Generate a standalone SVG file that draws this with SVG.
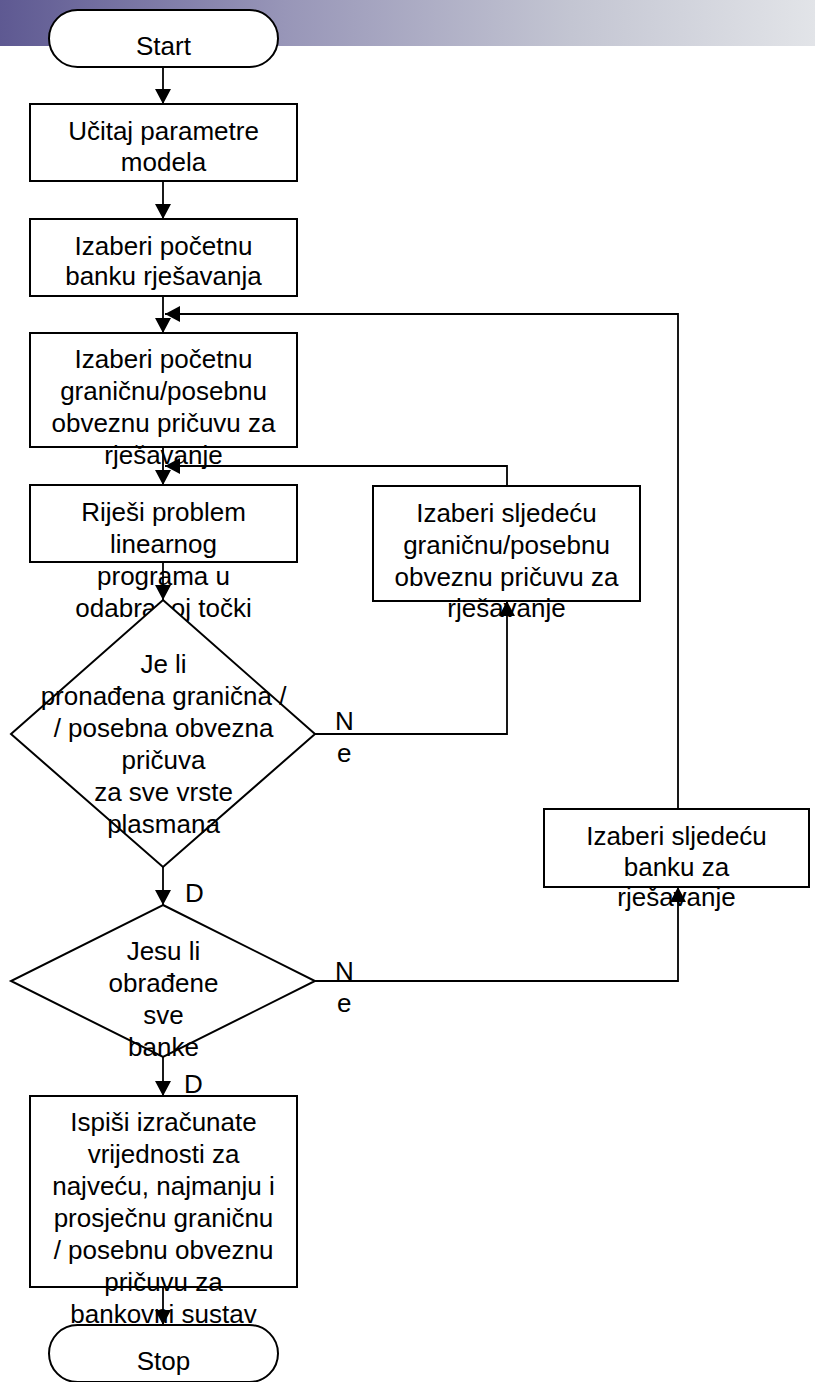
<svg xmlns="http://www.w3.org/2000/svg" width="815" height="1382" viewBox="0 0 815 1382">
<style>
.shape{fill:#fff;stroke:#000;stroke-width:2}
.t{font-family:"Liberation Sans",Arial,sans-serif;font-size:26px;fill:#000;text-anchor:middle}
.lbl{font-family:"Liberation Sans",Arial,sans-serif;font-size:26px;fill:#000}
.conn{fill:none;stroke:#000;stroke-width:1.8}
</style>
<defs>
<linearGradient id="bar" x1="0" y1="0" x2="1" y2="0">
<stop offset="0" stop-color="#5e5992"/>
<stop offset="0.35" stop-color="#9896b8"/>
<stop offset="0.7" stop-color="#c3c5d2"/>
<stop offset="1" stop-color="#e2e4e8"/>
</linearGradient>
<marker id="arr" markerUnits="userSpaceOnUse" markerWidth="16" markerHeight="16" refX="15" refY="8" orient="auto">
<path d="M0,0 L15,8 L0,16 z" fill="#000"/>
</marker>
</defs>
<rect x="0" y="0" width="815" height="46" fill="url(#bar)"/>

<g id="start">
<rect class="shape" x="49" y="10" width="229" height="57" rx="28.5" ry="28.5"/>
<text class="t" x="163.5" y="55">Start</text>
</g>
<g id="ucitaj">
<rect class="shape" x="30" y="104" width="267" height="77"/>
<text class="t" x="163.5" y="140">Učitaj parametre</text>
<text class="t" x="163.5" y="171">modela</text>
</g>
<g id="pocetna-banka">
<rect class="shape" x="30" y="219" width="267" height="77"/>
<text class="t" x="163.5" y="255">Izaberi početnu</text>
<text class="t" x="163.5" y="285">banku rješavanja</text>
</g>
<g id="pocetna-pricuva">
<rect class="shape" x="30" y="333" width="267" height="114"/>
<text class="t" x="163.5" y="368">Izaberi početnu</text>
<text class="t" x="163.5" y="400">graničnu/posebnu</text>
<text class="t" x="163.5" y="432">obveznu pričuvu za</text>
<text class="t" x="163.5" y="464">rješavanje</text>
</g>
<g id="rijesi">
<rect class="shape" x="30" y="485" width="267" height="77"/>
<text class="t" x="163.5" y="521">Riješi problem</text>
<text class="t" x="163.5" y="553">linearnog</text>
<text class="t" x="163.5" y="585">programa u</text>
<text class="t" x="163.5" y="617">odabranoj točki</text>
</g>
<g id="sljedeca-pricuva">
<rect class="shape" x="373" y="486" width="267" height="115"/>
<text class="t" x="506.5" y="522">Izaberi sljedeću</text>
<text class="t" x="506.5" y="554">graničnu/posebnu</text>
<text class="t" x="506.5" y="586">obveznu pričuvu za</text>
<text class="t" x="506.5" y="617">rješavanje</text>
</g>
<g id="odluka-pricuva">
<polygon class="shape" points="163,600 315,734 163,867 11,734"/>
<text class="t" x="163.5" y="673">Je li</text>
<text class="t" x="163.5" y="705">pronađena granična /</text>
<text class="t" x="163.5" y="737">/ posebna obvezna</text>
<text class="t" x="163.5" y="769">pričuva</text>
<text class="t" x="163.5" y="801">za sve vrste</text>
<text class="t" x="163.5" y="833">plasmana</text>
</g>
<g id="sljedeca-banka">
<rect class="shape" x="544" y="809" width="265" height="78"/>
<text class="t" x="676.5" y="845">Izaberi sljedeću</text>
<text class="t" x="676.5" y="876">banku za</text>
<text class="t" x="676.5" y="906">rješavanje</text>
</g>
<g id="odluka-banke">
<polygon class="shape" points="163,905 315,981 163,1057 11,981"/>
<text class="t" x="163.5" y="960">Jesu li</text>
<text class="t" x="163.5" y="992">obrađene</text>
<text class="t" x="163.5" y="1024">sve</text>
<text class="t" x="163.5" y="1056">banke</text>
</g>
<g id="ispisi">
<rect class="shape" x="30" y="1096" width="267" height="191"/>
<text class="t" x="163.5" y="1131">Ispiši izračunate</text>
<text class="t" x="163.5" y="1163">vrijednosti za</text>
<text class="t" x="163.5" y="1195">najveću, najmanju i</text>
<text class="t" x="163.5" y="1227">prosječnu graničnu</text>
<text class="t" x="163.5" y="1259">/ posebnu obveznu</text>
<text class="t" x="163.5" y="1291">pričuvu za</text>
<text class="t" x="163.5" y="1323">bankovni sustav</text>
</g>
<g id="stop">
<rect class="shape" x="49" y="1325" width="229" height="57" rx="28.5" ry="28.5"/>
<text class="t" x="163.5" y="1370">Stop</text>
</g>

<g id="connectors">
<path class="conn" d="M163,67 V104" marker-end="url(#arr)"/>
<path class="conn" d="M163,181 V219" marker-end="url(#arr)"/>
<path class="conn" d="M163,296 V333" marker-end="url(#arr)"/>
<path class="conn" d="M678,809 V314 H165" marker-end="url(#arr)"/>
<path class="conn" d="M163,447 V485" marker-end="url(#arr)"/>
<path class="conn" d="M507,486 V466 H165" marker-end="url(#arr)"/>
<path class="conn" d="M163,562 V600" marker-end="url(#arr)"/>
<path class="conn" d="M315,734 H507 V601" marker-end="url(#arr)"/>
<path class="conn" d="M163,867 V905" marker-end="url(#arr)"/>
<path class="conn" d="M315,981 H678 V887" marker-end="url(#arr)"/>
<path class="conn" d="M163,1057 V1096" marker-end="url(#arr)"/>
<path class="conn" d="M163,1287 V1325" marker-end="url(#arr)"/>
<text class="lbl" x="335" y="730">N</text>
<text class="lbl" x="337" y="762">e</text>
<text class="lbl" x="185" y="902">D</text>
<text class="lbl" x="335" y="980">N</text>
<text class="lbl" x="337" y="1012">e</text>
<text class="lbl" x="184" y="1093">D</text>
</g>
</svg>
